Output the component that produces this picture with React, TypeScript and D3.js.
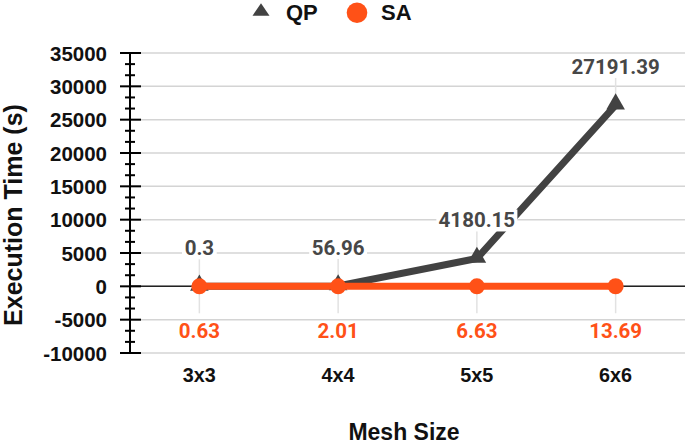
import React from "react";
import * as d3 from "d3";

const categories = ["3x3", "4x4", "5x5", "6x6"];
const qpValues = [0.3, 56.96, 4180.15, 27191.39];
const saValues = [0.63, 2.01, 6.63, 13.69];
const qpLabels = ["0.3", "56.96", "4180.15", "27191.39"];
const saLabels = ["0.63", "2.01", "6.63", "13.69"];
const yTicks = [-10000, -5000, 0, 5000, 10000, 15000, 20000, 25000, 30000, 35000];

const W = 685;
const H = 446;
const QP_COLOR = "#424242";
const SA_COLOR = "#FF5117";
const AXIS_FONT = "'Liberation Sans', Arial, sans-serif";
const LABEL_FONT = "Roboto, 'Liberation Sans', sans-serif";

function estWidth(s: string, fs: number) {
  let w = 0;
  for (const c of s) w += c === "." ? 0.27 : 0.565;
  return w * fs;
}

export default function App() {
  const x = d3.scaleBand<string>().domain(categories).range([130, 685]).padding(0);
  const y = d3.scaleLinear().domain([-10000, 35000]).range([353, 53]);
  const cx = (c: string) => (x(c) as number) + x.bandwidth() / 2;

  const minorTicks: number[] = [];
  for (let i = 0; i < yTicks.length - 1; i++) {
    const step = (yTicks[i + 1] - yTicks[i]) / 3;
    minorTicks.push(yTicks[i] + step, yTicks[i] + 2 * step);
  }

  const line = d3
    .line<number>()
    .x((_, i) => cx(categories[i]))
    .y((d) => y(d));

  const tri = d3.symbol().type(d3.symbolTriangle).size(150)();
  const labelFs = 20.5;

  return (
    <svg width={W} height={H} style={{ position: "absolute", left: 0, top: 0, background: "#fff" }}>
      {/* gridlines */}
      {yTicks.map((t) => (
        <line key={"g" + t} x1={130} x2={685} y1={y(t)} y2={y(t)} stroke="#d4d4d4" strokeWidth={1.5} />
      ))}
      {/* zero line */}
      <line x1={130} x2={685} y1={y(0)} y2={y(0)} stroke="#222" strokeWidth={1.5} />

      {/* connector lines */}
      {categories.map((c, i) => (
        <g key={"c" + c}>
          <line x1={cx(c)} x2={cx(c)} y1={y(qpValues[i]) - 28} y2={y(qpValues[i])} stroke="#e2e2e2" strokeWidth={1.5} />
          <line x1={cx(c)} x2={cx(c)} y1={y(saValues[i])} y2={y(saValues[i]) + 27} stroke="#e2e2e2" strokeWidth={1.5} />
        </g>
      ))}

      {/* QP series */}
      <path d={line(qpValues) as string} fill="none" stroke={QP_COLOR} strokeWidth={7} strokeLinejoin="miter" />
      {categories.map((c, i) => (
        <path key={"t" + c} d={tri as string} transform={`translate(${cx(c)},${y(qpValues[i]) - 1})`} fill={QP_COLOR} />
      ))}

      {/* SA series */}
      <path d={line(saValues) as string} fill="none" stroke={SA_COLOR} strokeWidth={7} />
      {categories.map((c, i) => (
        <circle key={"s" + c} cx={cx(c)} cy={y(saValues[i])} r={8} fill={SA_COLOR} />
      ))}

      {/* data labels */}
      {categories.map((c, i) => {
        const ly = y(qpValues[i]) - 38;
        const w = estWidth(qpLabels[i], labelFs);
        return (
          <g key={"ql" + c}>
            <rect x={cx(c) - w / 2 - 3} y={ly - 11} width={w + 6} height={22} fill="#fff" />
            <text x={cx(c)} y={ly} textAnchor="middle" dominantBaseline="central" fontFamily={LABEL_FONT} fontWeight="bold" fontSize={labelFs} fill="#474747">
              {qpLabels[i]}
            </text>
          </g>
        );
      })}
      {categories.map((c, i) => {
        const ly = y(saValues[i]) + 45;
        return (
          <text key={"sl" + c} x={cx(c)} y={ly} textAnchor="middle" dominantBaseline="central" fontFamily={LABEL_FONT} fontWeight="bold" fontSize={labelFs} fill={SA_COLOR}>
            {saLabels[i]}
          </text>
        );
      })}

      {/* y axis */}
      <line x1={130} x2={130} y1={y(35000)} y2={y(-10000) + 1} stroke="#000" strokeWidth={2} />
      {yTicks.map((t) => (
        <g key={"yt" + t}>
          <line x1={120} x2={141} y1={y(t)} y2={y(t)} stroke="#000" strokeWidth={2} />
          <text x={107} y={y(t)} textAnchor="end" dominantBaseline="central" fontFamily={AXIS_FONT} fontWeight="bold" fontSize={20.5} fill="#111">
            {t}
          </text>
        </g>
      ))}
      {minorTicks.map((t, i) => (
        <line key={"mt" + i} x1={125} x2={135} y1={y(t)} y2={y(t)} stroke="#000" strokeWidth={2} />
      ))}

      {/* x labels */}
      {categories.map((c) => (
        <text key={"xl" + c} x={cx(c)} y={375} textAnchor="middle" dominantBaseline="central" fontFamily={AXIS_FONT} fontWeight="bold" fontSize={19.8} fill="#111">
          {c}
        </text>
      ))}

      {/* axis titles */}
      <text x={404} y={440} textAnchor="middle" fontFamily={AXIS_FONT} fontWeight="bold" fontSize={23} fill="#111">
        Mesh Size
      </text>
      <text transform={`translate(13,215) rotate(-90)`} textAnchor="middle" dominantBaseline="central" fontFamily={AXIS_FONT} fontWeight="bold" fontSize={25} fill="#111">
        Execution Time (s)
      </text>

      {/* legend */}
      <path d="M261,3.3 L269.5,15.7 L252.5,15.7 Z" fill={QP_COLOR} />
      <text x={286} y={12.5} dominantBaseline="central" fontFamily={AXIS_FONT} fontWeight="bold" fontSize={22} fill="#111">QP</text>
      <circle cx={357} cy={12.7} r={10.3} fill={SA_COLOR} />
      <text x={381} y={12.5} dominantBaseline="central" fontFamily={AXIS_FONT} fontWeight="bold" fontSize={22} fill="#111">SA</text>
    </svg>
  );
}
